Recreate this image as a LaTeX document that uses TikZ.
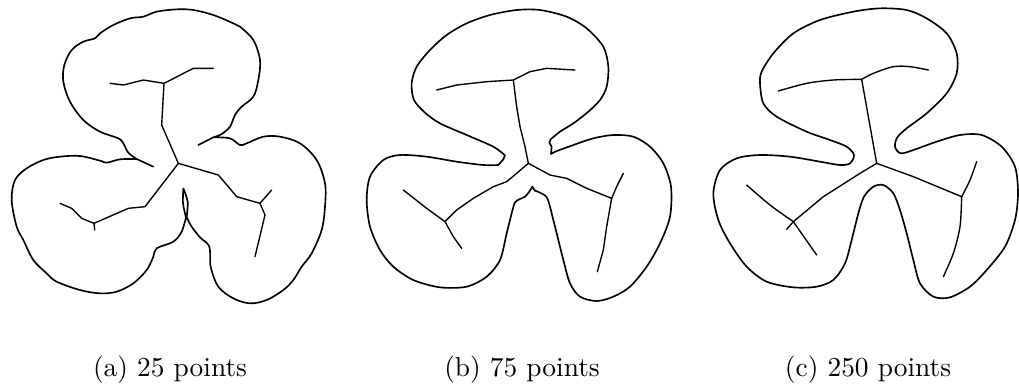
\documentclass[tikz,border=0pt]{standalone}
\usepackage{tikz}
\usetikzlibrary{positioning, calc}
\definecolor{Ink}{HTML}{000000}
\tikzset{
    outline/.style={draw=Ink, line width=0.6pt, line join=round, line cap=round},
    skel/.style={draw=Ink, line width=0.5pt, line join=round, line cap=round},
    caption/.style={anchor=base, text=Ink, font=\normalsize},
    panel/.style={scale=1/3},
}
\begin{document}
\begin{tikzpicture}[x=0.365pt, y=-0.365pt]
        \useasboundingbox (0,0) rectangle (1019,386);

        % --- (a) 25 points ---
        \begin{scope}[panel]
            \draw[outline] plot[smooth, tension=0.55] coordinates {(410,477) (385,458) (370,430) (355,415) (300,395) (250,360) (210,305) (190,245) (193,195) (215,150) (250,125) (285,115) (300,100) (340,75) (390,55) (430,50) (470,35) (530,28) (580,30) (640,45) (700,70) (720,80) (760,120) (780,180) (775,240) (760,290) (725,320) (705,345) (690,380) (665,402) (640,412)}
                -- (595,435) -- (640,412)
                -- plot[smooth, tension=0.55] coordinates {(640,412) (690,415) (720,435) (740,430) (790,410) (840,410) (900,430) (950,480) (975,550) (975,620) (965,690) (935,760) (905,800) (880,840) (850,870) (800,900) (750,910) (700,895) (655,860) (632,800) (628,740) (600,712) (575,680) (560,652)}
                -- plot[smooth] coordinates {(560,652) (563,605) (550,565)}
                -- plot[smooth] coordinates {(550,565) (549,610) (558,652)}
                -- plot[smooth, tension=0.55] coordinates {(558,652) (545,695) (520,725) (470,745) (460,770) (440,810) (400,850) (350,875) (300,880) (240,870) (170,845) (140,820) (100,780) (70,720) (50,680) (35,600) (45,540) (80,505) (130,480) (180,470) (240,468) (300,482) (320,488) (360,478) (410,477)}
                -- (460,500) -- (410,477);
            % skeleton
            \draw[skel] (535,490) -- (485,375) -- (492,250);
            \draw[skel] (330,250) -- (370,255) -- (430,240) -- (492,250) -- (580,205) -- (640,205);
            \draw[skel] (535,490) -- (655,525) -- (685,560) -- (710,590) -- (780,610) -- (815,570);
            \draw[skel] (780,610) -- (795,645) -- (765,770);
            \draw[skel] (535,490) -- (435,620) -- (385,625) -- (282,670) -- (245,655) -- (215,625) -- (180,610);
            \draw[skel] (282,670) -- (284,690);
        \end{scope}

        % --- (b) 75 points ---
        \begin{scope}[shift={(340,0)}, panel]
            \draw[outline] (475,495) -- (490,478) -- (495,466)
                -- plot[smooth] coordinates {(495,466) (460,440) (380,405) (300,370) (255,338) (222,300) (215,250) (230,200) (270,150) (320,105) (380,70) (450,45) (530,30) (600,30) (680,50) (740,85) (790,140) (805,200) (800,260) (780,300) (745,335) (700,370) (660,395) (632,418)}
                -- (628,428) -- (635,440) -- (633,462) -- (645,455)
                -- plot[smooth] coordinates {(645,455) (700,435) (760,415) (820,405) (880,410) (930,440) (970,490) (993,560) (990,650) (960,730) (920,800) (870,860) (820,890) (770,903) (720,890) (690,850) (670,780) (655,720) (640,660) (622,595) (600,578) (585,572)}
                -- (577,560) -- (568,575)
                -- plot[smooth] coordinates {(568,575) (555,590) (540,597) (525,607) (515,640) (500,700) (480,780) (440,830) (380,860) (300,862) (220,840) (160,800) (120,750) (90,680) (80,600) (90,530) (130,480) (180,465) (260,470) (350,485) (430,495) (475,495)}
                -- cycle;
            % skeleton
            \draw[skel] (565,490) -- (555,440) -- (540,380) -- (530,320) -- (520,240);
            \draw[skel] (290,270) -- (350,255) -- (440,245) -- (520,240) -- (570,215) -- (620,205) -- (705,210);
            \draw[skel] (565,490) -- (630,525) -- (680,535) -- (740,565) -- (815,595) -- (830,560) -- (850,520);
            \draw[skel] (815,595) -- (800,680) -- (790,750) -- (772,815);
            \draw[skel] (565,490) -- (530,520) -- (500,545) -- (460,560) -- (400,595) -- (350,630) -- (315,665) -- (260,625) -- (190,570);
            \draw[skel] (315,665) -- (340,710) -- (365,745);
        \end{scope}

        % --- (c) 250 points ---
        \begin{scope}[shift={(680,0)}, panel]
            \draw[outline] plot[smooth cycle] coordinates {(240,250) (250,310) (290,350) (380,395) (450,420) (500,440) (522,465) (510,490) (480,495) (420,485) (330,470) (240,465) (170,475) (120,510) (100,580) (115,660) (150,730) (200,800) (260,845) (340,862) (410,860) (460,840) (495,790) (515,720) (535,640) (552,590) (580,560) (610,555) (640,580) (660,630) (680,700) (700,780) (720,850) (760,890) (810,892) (870,860) (920,810) (975,740) (1005,660) (1014,580) (1005,500) (965,440) (905,405) (840,405) (770,425) (700,450) (662,460) (645,440) (652,412) (680,385) (740,340) (800,280) (830,220) (830,160) (800,100) (740,55) (680,30) (600,25) (520,35) (420,60) (340,100) (280,160) (245,215)};
            % skeleton
            \draw[skel] (590,490) -- (545,238);
            \draw[skel] plot[smooth] coordinates {(295,273) (380,250) (460,240) (545,238)}
                -- plot[smooth] coordinates {(545,238) (580,220) (640,200) (690,200) (745,210)};
            \draw[skel] (590,490) -- (700,530) -- (845,590);
            \draw[skel] plot[smooth] coordinates {(845,590) (870,540) (890,485)};
            \draw[skel] plot[smooth] coordinates {(845,590) (840,680) (820,760) (790,830)};
            \draw[skel] (590,490) -- (540,520) -- (430,590) -- (340,665);
            \draw[skel] plot[smooth] coordinates {(200,555) (270,615) (340,665)};
            \draw[skel] (340,665) -- (375,715) -- (410,765);
            \draw[skel] (340,665) -- (320,688);
        \end{scope}

        % Captions
        \node[caption] (capa) at (170,376) {(a) 25 points};
        \node[caption] (capb) at (522,376) {(b) 75 points};
        \node[caption] (capc) at (868,376) {(c) 250 points};
    \end{tikzpicture}
\end{document}
